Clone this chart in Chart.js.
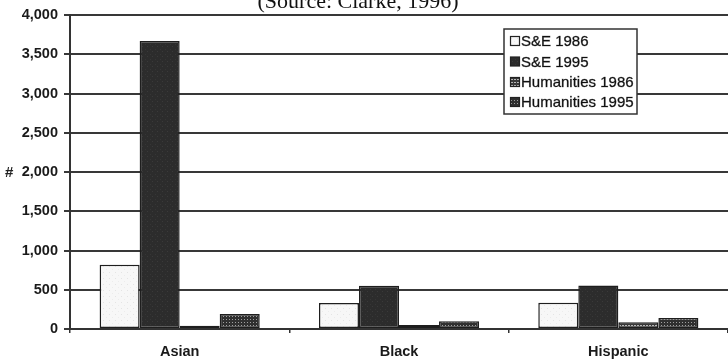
<!DOCTYPE html>
<html>
<head>
<meta charset="utf-8">
<script src="https://cdn.jsdelivr.net/npm/chart.js@4/dist/chart.umd.min.js"></script>
<style>
  html, body { margin: 0; padding: 0; background: #ffffff; }
  #wrap { width: 728px; height: 364px; position: relative; }
</style>
</head>
<body>
<div id="wrap"><canvas id="c" width="728" height="364"></canvas></div>
<script>
// Doctorates awarded by field and year, per group
const categories = ['Asian', 'Black', 'Hispanic'];
const seriesLabels = ['S&E 1986', 'S&E 1995', 'Humanities 1986', 'Humanities 1995'];
const se1986 = [820, 330, 335];
const se1995 = [3670, 550, 555];
const hum1986 = [40, 50, 85];
const hum1995 = [190, 100, 140];
const yTicks = [0, 500, 1000, 1500, 2000, 2500, 3000, 3500, 4000];
const sourceNote = '(Source: Clarke, 1996)';
const yAxisTitle = '#';

// Small fill textures for the bars
function makePattern(w, h, base, dots) {
  const c = document.createElement('canvas');
  c.width = w; c.height = h;
  const x = c.getContext('2d');
  x.fillStyle = base;
  x.fillRect(0, 0, w, h);
  dots.forEach(d => { x.fillStyle = d[2]; x.fillRect(d[0], d[1], d[3] || 1, d[4] || 1); });
  return x.createPattern(c, 'repeat');
}
const fills = [
  makePattern(6, 6, '#f7f7f7', [[1, 2, '#e4e4e4'], [4, 5, '#ececec']]),
  makePattern(5, 5, '#2c2c2c', [[2, 1, '#3a3a3a'], [0, 4, '#363636']]),
  makePattern(3, 3, '#3a3a3a', [[1, 1, '#b8b8b8', 2, 1]]),
  makePattern(3, 3, '#303030', [[1, 1, '#a0a0a0']])
];
const seriesValues = [se1986, se1995, hum1986, hum1995];

const fmt = v => v.toLocaleString('en-US');
const SANS = '"Liberation Sans", Arial, sans-serif';

// Source line, "#" axis marker and the boxed legend
const overlay = {
  id: 'overlay',
  afterDraw(chart) {
    const ctx = chart.ctx;
    ctx.save();
    ctx.fillStyle = '#111';
    ctx.font = '22px "Liberation Serif", "Times New Roman", serif';
    ctx.textAlign = 'center';
    ctx.textBaseline = 'alphabetic';
    ctx.fillText(sourceNote, 358, 8);

    const ys = chart.scales.y;
    ctx.font = 'bold 15px ' + SANS;
    ctx.textAlign = 'left';
    ctx.textBaseline = 'middle';
    ctx.fillStyle = '#222';
    ctx.fillText(yAxisTitle, 5, ys.getPixelForValue(2000) + 1);

    // legend box
    const bx = 504, by = 29, bw = 133, bh = 85;
    ctx.fillStyle = '#fff';
    ctx.fillRect(bx, by, bw, bh);
    ctx.strokeStyle = '#333';
    ctx.lineWidth = 1.5;
    ctx.strokeRect(bx, by, bw, bh);
    const rows = [41, 61.5, 82, 102];
    chart.data.datasets.forEach((ds, i) => {
      const cy = rows[i];
      ctx.fillStyle = ds.backgroundColor;
      ctx.fillRect(510.5, cy - 4.5, 9, 9);
      ctx.strokeStyle = '#222';
      ctx.lineWidth = 1.2;
      ctx.strokeRect(510.5, cy - 4.5, 9, 9);
      ctx.fillStyle = '#111';
      ctx.font = '15px ' + SANS;
      ctx.textBaseline = 'middle';
      ctx.fillText(ds.label, 521, cy + 1);
      ctx.strokeStyle = 'rgba(17,17,17,0.55)';
      ctx.lineWidth = 0.5;
      ctx.strokeText(ds.label, 521, cy + 1);
    });
    ctx.restore();
  }
};

new Chart(document.getElementById('c'), {
  type: 'bar',
  data: {
    labels: categories,
    datasets: seriesLabels.map((lab, i) => ({
      label: lab,
      data: seriesValues[i],
      backgroundColor: fills[i],
      borderColor: '#1e1e1e',
      borderWidth: 1.5,
      borderSkipped: false,
      categoryPercentage: 0.73,
      barPercentage: 1.0
    }))
  },
  options: {
    responsive: false,
    animation: false,
    devicePixelRatio: 1,
    layout: { padding: { top: 15, right: 0, bottom: 0, left: 0 } },
    plugins: {
      legend: { display: false },
      title: { display: false },
      tooltip: { enabled: false }
    },
    scales: {
      x: {
        afterFit(scale) { scale.height = 35; },
        grid: {
          display: true,
          drawOnChartArea: false,
          drawTicks: true,
          tickLength: 4,
          color: '#333',
          lineWidth: 1.5
        },
        border: { display: true, color: '#333', width: 2 },
        ticks: {
          color: '#1a1a1a',
          padding: 10,
          font: { family: SANS, size: 14.5, weight: 'bold' }
        }
      },
      y: {
        min: 0,
        max: 4000,
        afterFit(scale) { scale.width = 70; },
        afterBuildTicks(scale) { scale.ticks = yTicks.map(v => ({ value: v })); },
        grid: {
          color: '#383838',
          lineWidth: 2,
          drawTicks: true,
          tickLength: 6
        },
        border: { display: true, color: '#333', width: 2 },
        ticks: {
          color: '#1a1a1a',
          padding: 6,
          font: { family: SANS, size: 14.5, weight: 'bold' },
          callback: v => fmt(v)
        }
      }
    }
  },
  plugins: [overlay]
});
</script>
</body>
</html>
